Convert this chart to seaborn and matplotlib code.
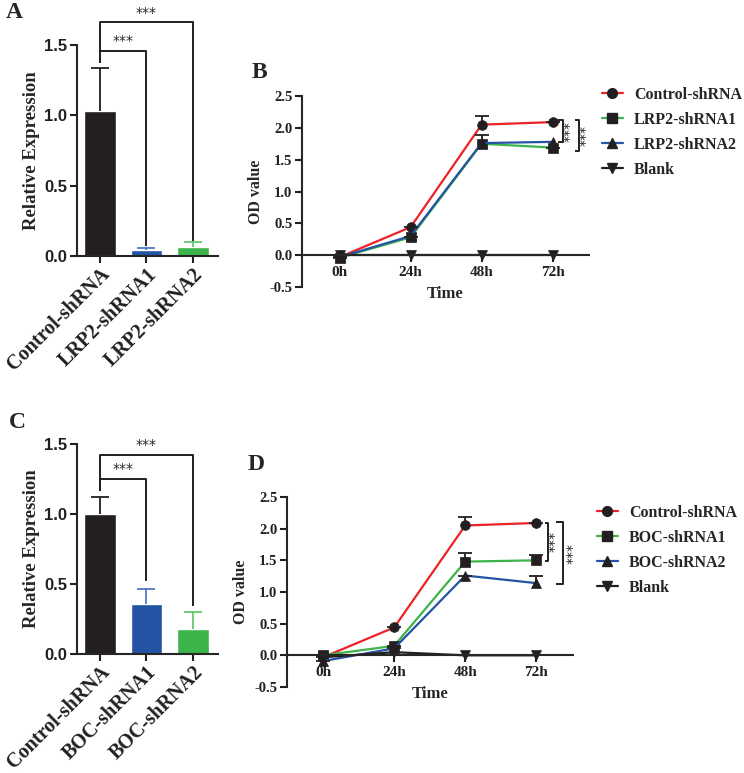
import numpy as np
import pandas as pd
import seaborn as sns
import matplotlib.pyplot as plt
from matplotlib.lines import Line2D

sns.set_theme(style='ticks')
plt.rcParams['font.family'] = ['Liberation Serif', 'DejaVu Serif']
plt.rcParams['font.weight'] = 'bold'
plt.rcParams['axes.labelweight'] = 'bold'

# ---- data ----
groups_a = ['Control-shRNA', 'LRP2-shRNA1', 'LRP2-shRNA2']
expr_a = [1.03, 0.04, 0.066]
err_a = [0.31, 0.015, 0.031]

groups_c = ['Control-shRNA', 'BOC-shRNA1', 'BOC-shRNA2']
expr_c = [1.0, 0.36, 0.178]
err_c = [0.12, 0.106, 0.122]

times = ['0h', '24h', '48h', '72h']
hours = [0, 24, 48, 72]

labels_b = ['Control-shRNA', 'LRP2-shRNA1', 'LRP2-shRNA2', 'Blank']
ctrl_b = [-0.03, 0.44, 2.05, 2.09]
lrp1_b = [-0.04, 0.28, 1.75, 1.69]
lrp2_b = [-0.03, 0.30, 1.76, 1.78]
blank_b = [0.0, 0.0, 0.0, 0.0]
ctrl_b_err = [0, 0, 0.14, 0]
lrp1_b_err = [0, 0, 0.13, 0]

labels_d = ['Control-shRNA', 'BOC-shRNA1', 'BOC-shRNA2', 'Blank']
ctrl_d = [-0.03, 0.44, 2.05, 2.09]
boc1_d = [0.0, 0.15, 1.48, 1.50]
boc2_d = [-0.09, 0.11, 1.26, 1.14]
blank_d = [-0.03, 0.05, 0.0, 0.0]
ctrl_d_err = [0, 0, 0.14, 0]
boc1_d_err = [0, 0, 0.14, 0.08]
boc2_d_err = [0, 0, 0, 0.11]

bar_colors = ['#231f20', '#2453a3', '#3cb44a']
err_colors = ['#231f20', '#4f78c8', '#5fcb6a']
line_colors = ['#ec2227', '#3cb44a', '#2453a3', '#231f20']
line_markers = ['o', 's', '^', 'v']

W, H = 744, 773
fig = plt.figure(figsize=(W / 100, H / 100), dpi=100)


def px_axes(l, t, r, b):
    return fig.add_axes([l / W, 1 - b / H, (r - l) / W, (b - t) / H])


def letter(x, y, s):
    fig.text(x / W, 1 - y / H, s, fontsize=17, weight='bold', ha='center', va='center')


def bracket(ax, pts):
    xs, ys = zip(*pts)
    ax.plot(xs, ys, color='#231f20', lw=1.4, clip_on=False, solid_capstyle='butt')


def up_errorbar(ax, x, y, e, color, capsize):
    # one-sided (upper) error bar, no lower cap
    cont = ax.errorbar(x, y, yerr=[np.zeros(len(np.atleast_1d(e))), e], fmt='none',
                       ecolor=color, elinewidth=1.3, capsize=capsize, capthick=1.3)
    cont.lines[1][0].set_visible(False)


def bar_panel(ax, groups, vals, errs, brackets):
    sns.barplot(x=groups, y=vals, hue=groups, palette=bar_colors, saturation=1,
                width=0.68, errorbar=None, legend=False, ax=ax)
    for i, (v, e) in enumerate(zip(vals, errs)):
        up_errorbar(ax, [i], [v], [e], err_colors[i], 6.5)
    ax.set_ylim(0, 1.5)
    ax.set_xlim(-0.49, 2.54)
    ax.set_yticks([0, 0.5, 1.0, 1.5])
    ax.set_yticklabels(['0.0', '0.5', '1.0', '1.5'], family='Liberation Sans',
                       weight='bold', fontsize=12)
    ax.set_xticks(range(3))
    ax.set_xticklabels(groups, rotation=45, ha='right', rotation_mode='anchor',
                       fontsize=14.5, weight='bold')
    ax.set_ylabel('Relative Expression', fontsize=13.5, labelpad=3)
    sns.despine(ax=ax)
    for s in ['left', 'bottom']:
        ax.spines[s].set_linewidth(1.5)
    ax.tick_params(width=1.5, length=5, pad=2, colors='#231f20')
    ax.tick_params(axis='x', pad=1)
    for (x2, ytop, yl, yr, ystar) in brackets:
        bracket(ax, [(0, yl), (0, ytop), (x2, ytop), (x2, yr)])
        ax.text(x2 / 2, ystar, '***', ha='center', va='center', fontsize=10,
                family='DejaVu Sans', weight='normal', clip_on=False)


def line_panel(ax, labels, series, errs, xlim, brackets, leg_xy):
    df = pd.concat([pd.DataFrame({'hour': hours, 'od': s, 'group': lab})
                    for lab, s in zip(labels, series)])
    sns.lineplot(data=df, x='hour', y='od', hue='group', style='group',
                 palette=dict(zip(labels, line_colors)),
                 markers=dict(zip(labels, line_markers)), dashes=False,
                 markersize=7, linewidth=1.6, markerfacecolor='#231f20',
                 markeredgecolor='#231f20', markeredgewidth=0.5,
                 errorbar=None, legend=False, ax=ax)
    for s, e in zip(series, errs):
        if e is None:
            continue
        up_errorbar(ax, hours, s, e, '#231f20', 5)
    ax.set_ylim(-0.5, 2.5)
    ax.set_xlim(*xlim)
    ax.set_yticks([-0.5, 0, 0.5, 1.0, 1.5, 2.0, 2.5])
    ax.set_yticklabels(['-0.5', '0.0', '0.5', '1.0', '1.5', '2.0', '2.5'],
                       fontsize=10.5, weight='bold')
    ax.set_xticks(hours)
    ax.set_xticklabels(times, fontsize=10.5, weight='bold')
    ax.set_xlabel('Time', fontsize=12, labelpad=5)
    ax.set_ylabel('OD value', fontsize=11.5, labelpad=4)
    sns.despine(ax=ax)
    ax.spines['bottom'].set_position(('data', 0))
    for s in ['left', 'bottom']:
        ax.spines[s].set_linewidth(1.5)
    ax.tick_params(width=1.5, length=5, pad=2, colors='#231f20')
    ax.tick_params(axis='x', pad=3)
    for (xl, xv, ytop, ybot, xs) in brackets:
        bracket(ax, [(xl, ytop), (xv, ytop), (xv, ybot), (xl, ybot)])
        ax.text(xs, (ytop + ybot) / 2, '***', ha='center', va='center',
                rotation=90, fontsize=10, family='DejaVu Sans', weight='normal',
                clip_on=False)
    handles = [Line2D([], [], color=c, marker=m, markersize=7, lw=1.6,
                      markerfacecolor='#231f20', markeredgecolor='#231f20')
               for c, m in zip(line_colors, line_markers)]
    fig.legend(handles, labels, loc='upper left', bbox_to_anchor=leg_xy,
               frameon=False, handlelength=1.3,
               handletextpad=0.7, labelspacing=0.56, borderpad=0,
               borderaxespad=0, prop={'weight': 'bold', 'size': 11.5})


ax_a = px_axes(77, 45, 218, 256)
bar_panel(ax_a, groups_a, expr_a, err_a,
          [(1, 1.46, 1.37, 0.07, 1.53), (2, 1.66, 1.37, 0.11, 1.73)])

ax_c = px_axes(77, 444, 218, 654)
bar_panel(ax_c, groups_c, expr_c, err_c,
          [(1, 1.25, 1.165, 0.52, 1.32), (2, 1.425, 1.165, 0.34, 1.49)])

ax_b = px_axes(302, 96, 589, 287)
line_panel(ax_b, labels_b, [ctrl_b, lrp1_b, lrp2_b, blank_b],
           [ctrl_b_err, lrp1_b_err, None, None], (-12.7, 84.3),
           [(73.8, 75.5, 2.12, 1.77, 77.6), (79.6, 80.9, 2.13, 1.63, 83.3)],
           (602 / W, 1 - 87 / H))

ax_d = px_axes(287, 497, 573, 687)
line_panel(ax_d, labels_d, [ctrl_d, boc1_d, boc2_d, blank_d],
           [ctrl_d_err, boc1_d_err, boc2_d_err, None], (-12.2, 84.4),
           [(74.8, 75.9, 2.09, 1.49, 78.2), (78.8, 81.0, 2.10, 1.12, 84.4)],
           (597 / W, 1 - 505 / H))

letter(14, 13, 'A')
letter(259, 72, 'B')
letter(17, 423, 'C')
letter(256, 465, 'D')

fig.savefig('out.png', dpi=100)
